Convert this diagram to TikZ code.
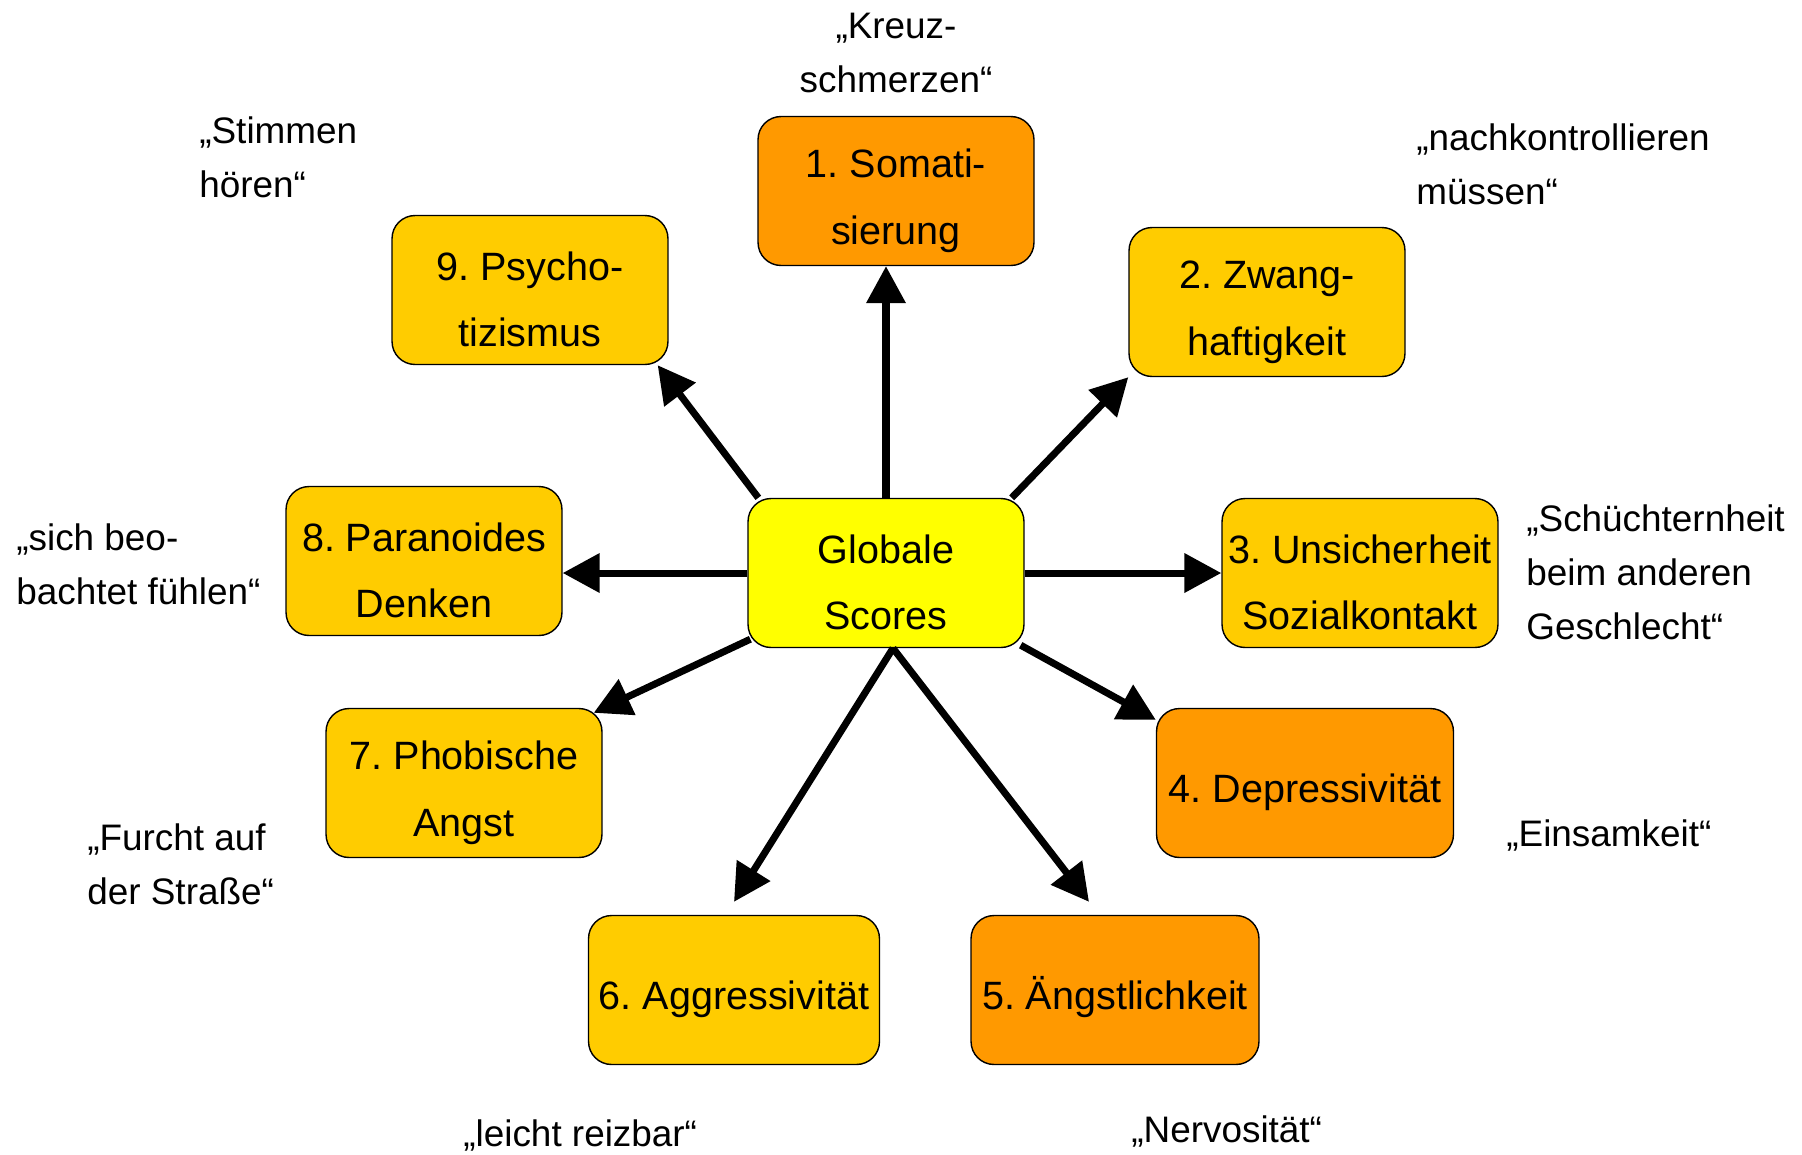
\documentclass[tikz,border=0pt]{standalone}
\usepackage{fontspec}
\setmainfont{Liberation Sans}
\usetikzlibrary{arrows.meta}
\definecolor{scoreyellow}{HTML}{FFFF00}
\definecolor{scalegold}{HTML}{FFCC00}
\definecolor{scaleorange}{HTML}{FF9900}
\newcommand{\topstrut}{\rule{0pt}{27pt}}
\frenchspacing

\begin{document}
\begin{tikzpicture}[x=0.02cm,y=-0.02cm,every node/.style={align=center, inner sep=0pt},scale box/.style={draw, rounded corners=0.46cm, line width=0.8pt, minimum width=5.52cm, minimum height=2.98cm, fill=scalegold, font=\fontsize{22.5}{38}\selectfont},example/.style={align=left, anchor=west, font=\fontsize{21}{30.7}\selectfont},link/.style={line width=4pt, -{Triangle[length=0.74cm,width=0.76cm]}}]
\useasboundingbox (0,0) rectangle (1802,1154);
\node[scale box, fill=scoreyellow] (scores) at (886,573) {\topstrut Globale\\Scores};
\node[scale box, fill=scaleorange] (s1) at (896,191) {\topstrut 1. Somati-\\sierung};
\node[scale box] (s2) at (1267,302) {\topstrut 2. Zwang-\\haftigkeit};
\node[scale box] (s3) at (1360,573) {\topstrut 3. Unsicherheit\\Sozialkontakt};
\node[scale box, fill=scaleorange, minimum width=5.94cm] (s4) at (1305,783) {\topstrut 4. Depressivität};
\node[scale box, fill=scaleorange, minimum width=5.76cm] (s5) at (1115,990) {\topstrut 5. Ängstlichkeit};
\node[scale box, minimum width=5.82cm] (s6) at (734,990) {\topstrut 6. Aggressivität};
\node[scale box] (s7) at (464,783) {\topstrut 7. Phobische\\Angst};
\node[scale box] (s8) at (424,561) {\topstrut 8. Paranoides\\Denken};
\node[scale box] (s9) at (530,290) {\topstrut 9. Psycho-\\tizismus};
\node[example, anchor=center, align=center] (e1) at (896,53) {„Kreuz-\\schmerzen“};
\node[example] (e2) at (1416,164) {„nachkontrollieren\\müssen“};
\node[example] (e3) at (1526,572) {„Schüchternheit\\beim anderen\\Geschlecht“};
\node[example] (e4) at (1506,835) {„Einsamkeit“};
\node[example] (e5) at (1131,1131) {„Nervosität“};
\node[example] (e6) at (463,1135) {„leicht reizbar“};
\node[example] (e7) at (87,864) {„Furcht auf\\der Straße“};
\node[example] (e8) at (16,564) {„sich beo-\\bachtet fühlen“};
\node[example] (e9) at (199,157) {„Stimmen\\hören“};
\draw[link] (scores.north) -- (scores.north |- s1.south);
\draw[link] ([xshift=-0.26cm]scores.north east) -- (s2.south west);
\draw[link] (scores.east) -- (s3.west);
\draw[link] ([xshift=-0.08cm,yshift=0.06cm]scores.south east) -- ([yshift=-0.24cm]s4.north west);
\draw[link] ([xshift=0.14cm]scores.south) -- ([xshift=-0.52cm,yshift=0.26cm]s5.north);
\draw[link] ([xshift=0.14cm]scores.south) -- ([yshift=0.26cm]s6.north);
\draw[link] ([xshift=0.06cm,yshift=0.18cm]scores.south west) -- ([xshift=-0.18cm,yshift=-0.1cm]s7.north east);
\draw[link] (scores.west) -- (scores.west -| s8.east);
\draw[link] ([xshift=0.22cm]scores.north west) -- ([xshift=-0.22cm]s9.south east);
\end{tikzpicture}
\end{document}
